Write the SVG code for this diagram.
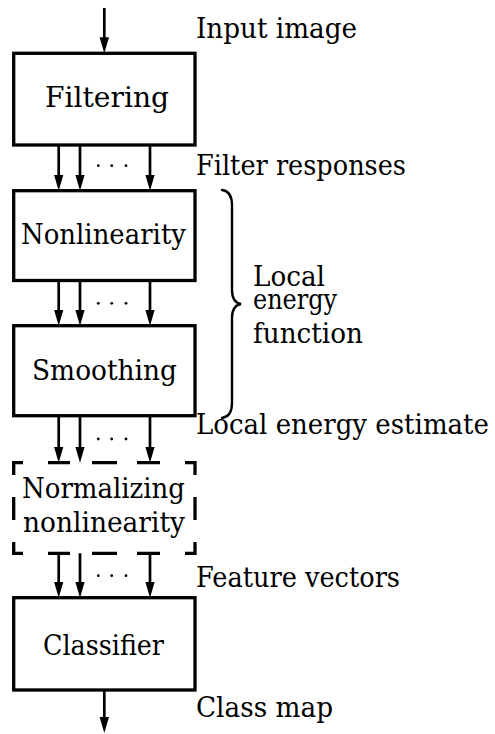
<svg xmlns="http://www.w3.org/2000/svg" width="495" height="734" viewBox="0 0 495 734">
<style>
.box{fill:#fff;stroke:#000;stroke-width:3.3}
.dash{fill:none;stroke:#000;stroke-width:3.3;stroke-linejoin:miter}
.arr{stroke:#000;stroke-width:2.7;fill:none;marker-end:url(#ah)}
.dot{fill:#000}
.brace{fill:none;stroke:#000;stroke-width:2.4;stroke-linecap:round}
.t{font-family:'DejaVu Serif',serif;font-size:27.5px;fill:#000}
</style>
<defs>
<marker id="ah" markerUnits="userSpaceOnUse" viewBox="0 0 16 10" refX="6" refY="5" markerWidth="16" markerHeight="10" orient="auto">
<path d="M0,0.3 L16,5 L0,9.7 z" fill="#000"/>
</marker>
</defs>
<g id="connectors">
<line class="arr" x1="104.3" y1="8" x2="104.3" y2="43.3"/>
<line class="arr" x1="58.7" y1="145" x2="58.7" y2="180.7"/>
<line class="arr" x1="80" y1="145" x2="80" y2="180.7"/>
<line class="arr" x1="150" y1="145" x2="150" y2="180.7"/>
<line class="arr" x1="58.7" y1="280.5" x2="58.7" y2="315.7"/>
<line class="arr" x1="80" y1="280.5" x2="80" y2="315.7"/>
<line class="arr" x1="150" y1="280.5" x2="150" y2="315.7"/>
<line class="arr" x1="58.7" y1="415.7" x2="58.7" y2="452.7"/>
<line class="arr" x1="80" y1="415.7" x2="80" y2="452.7"/>
<line class="arr" x1="150" y1="415.7" x2="150" y2="452.7"/>
<line class="arr" x1="58.7" y1="553.3" x2="58.7" y2="587.7"/>
<line class="arr" x1="80" y1="553.3" x2="80" y2="587.7"/>
<line class="arr" x1="150" y1="553.3" x2="150" y2="587.7"/>
<line class="arr" x1="104.3" y1="690" x2="104.3" y2="723"/>
<circle class="dot" cx="98.3" cy="165.7" r="1.4"/><circle class="dot" cx="111.7" cy="165.7" r="1.4"/><circle class="dot" cx="126" cy="165.7" r="1.4"/>
<circle class="dot" cx="98.3" cy="303.3" r="1.4"/><circle class="dot" cx="111.7" cy="303.3" r="1.4"/><circle class="dot" cx="126" cy="303.3" r="1.4"/>
<circle class="dot" cx="98.3" cy="439" r="1.4"/><circle class="dot" cx="111.7" cy="439" r="1.4"/><circle class="dot" cx="126" cy="439" r="1.4"/>
<circle class="dot" cx="98.3" cy="575.7" r="1.4"/><circle class="dot" cx="111.7" cy="575.7" r="1.4"/><circle class="dot" cx="126" cy="575.7" r="1.4"/>
</g>
<g id="filtering">
<rect class="box" x="13.7" y="53.3" width="181.3" height="91.7"/>
<text class="t" x="45" y="107" textLength="124" lengthAdjust="spacingAndGlyphs">Filtering</text>
</g>
<g id="nonlinearity">
<rect class="box" x="13.7" y="190.7" width="181.3" height="89.8"/>
<text class="t" x="21" y="244" textLength="165" lengthAdjust="spacingAndGlyphs">Nonlinearity</text>
</g>
<g id="smoothing">
<rect class="box" x="13.7" y="325.7" width="181.3" height="90"/>
<text class="t" x="32" y="380" textLength="145" lengthAdjust="spacingAndGlyphs">Smoothing</text>
</g>
<g id="normalizing">
<path class="dash" d="M13.7,475 V462.7 H23 M48,462.7 H70 M92,462.7 H117 M137,462.7 H160 M185,462.7 H195 V475 M195,497 V520 M195,542 V553.3 H185 M160,553.3 H137 M117,553.3 H92 M70,553.3 H48 M23,553.3 H13.7 V542 M13.7,520 V497"/>
<text class="t" x="22" y="498" textLength="163" lengthAdjust="spacingAndGlyphs">Normalizing</text>
<text class="t" x="23" y="532" textLength="162" lengthAdjust="spacingAndGlyphs">nonlinearity</text>
</g>
<g id="classifier">
<rect class="box" x="13.7" y="597.7" width="181.3" height="92.3"/>
<text class="t" x="43" y="655" textLength="121" lengthAdjust="spacingAndGlyphs">Classifier</text>
</g>
<g id="brace">
<path class="brace" d="M222,190 C229,191 232,196 232,205 L232,290 C232,298 235,303 241,304 C235,305 232,310 232,318 L232,403 C232,412 229,417 222,418"/>
</g>
<g id="labels">
<text class="t" x="196" y="38" textLength="161" lengthAdjust="spacingAndGlyphs">Input image</text>
<text class="t" x="196" y="175" textLength="210" lengthAdjust="spacingAndGlyphs">Filter responses</text>
<text class="t" x="253" y="286" textLength="72" lengthAdjust="spacingAndGlyphs">Local</text>
<text class="t" x="253" y="309" textLength="84" lengthAdjust="spacingAndGlyphs">energy</text>
<text class="t" x="253" y="343" textLength="110" lengthAdjust="spacingAndGlyphs">function</text>
<text class="t" x="196" y="434" textLength="293" lengthAdjust="spacingAndGlyphs">Local energy estimate</text>
<text class="t" x="196" y="587" textLength="204" lengthAdjust="spacingAndGlyphs">Feature vectors</text>
<text class="t" x="196" y="717" textLength="137" lengthAdjust="spacingAndGlyphs">Class map</text>
</g>
</svg>
